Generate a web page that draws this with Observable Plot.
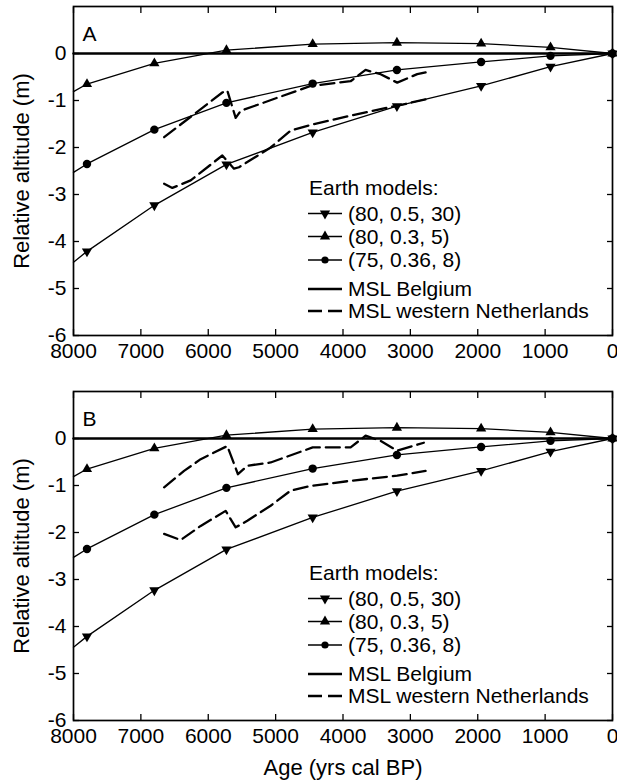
<!DOCTYPE html>
<html>
<head>
<meta charset="utf-8">
<script src="https://cdn.jsdelivr.net/npm/d3@7"></script>
<script src="https://cdn.jsdelivr.net/npm/@observablehq/plot@0.6"></script>
<style>
  html, body { margin: 0; padding: 0; background: #fff; }
  #chart { width: 617px; height: 780px; }
  #chart svg { display: block; }
</style>
</head>
<body>
<div id="chart"></div>
<script>
// ---------------- data ----------------
// model epochs (yrs cal BP); first value is where the curve meets the axis (no marker)
const modelAges = [8000, 7800, 6800, 5730, 4450, 3200, 1950, 920, 0];
const model_80_05_30 = [-4.44, -4.21, -3.23, -2.36, -1.68, -1.12, -0.69, -0.28, 0];
const model_80_03_5  = [-0.81, -0.65, -0.21, 0.07, 0.20, 0.23, 0.21, 0.13, 0];
const model_75_036_8 = [-2.53, -2.35, -1.62, -1.05, -0.64, -0.35, -0.18, -0.05, 0];

// MSL Belgium
const belgiumAges = [8000, 0];
const belgiumAlt  = [0, 0];

// MSL western Netherlands, panel A (two curves)
const nlA1Ages = [6655, 5791, 5717, 5593, 5519, 4481, 3887, 3665, 3442, 3195, 2898, 2774];
const nlA1Alt  = [-1.78, -0.83, -0.79, -1.37, -1.22, -0.69, -0.59, -0.35, -0.44, -0.62, -0.44, -0.40];
const nlA2Ages = [6655, 6533, 6261, 5791, 5618, 5544, 5074, 4777, 4481, 3887, 3195, 2750];
const nlA2Alt  = [-2.77, -2.86, -2.70, -2.17, -2.45, -2.42, -2.00, -1.64, -1.52, -1.32, -1.11, -0.97];

// MSL western Netherlands, panel B (two curves)
const nlB1Ages = [6655, 6359, 6112, 5717, 5559, 5420, 5074, 4450, 3887, 3665, 3442, 3195, 2800];
const nlB1Alt  = [-1.04, -0.69, -0.44, -0.16, -0.76, -0.58, -0.51, -0.19, -0.19, 0.06, -0.05, -0.26, -0.09];
const nlB2Ages = [6655, 6409, 6112, 5742, 5593, 5420, 5074, 4777, 4481, 3887, 3195, 2774];
const nlB2Alt  = [-2.03, -2.16, -1.86, -1.54, -1.89, -1.75, -1.43, -1.11, -1.01, -0.90, -0.79, -0.69];

// axes
const xTicks = [8000, 7000, 6000, 5000, 4000, 3000, 2000, 1000, 0];
const yTicks = [0, -1, -2, -3, -4, -5, -6];
const xDomain = [8000, 0];
const yDomain = [-6, 1];

const legendTitle = "Earth models:";
const modelLabels = ["(80, 0.5, 30)", "(80, 0.3, 5)", "(75, 0.36, 8)"];
const mslLabels = ["MSL Belgium", "MSL western Netherlands"];
const xTitle = "Age (yrs cal BP)";
const yTitle = "Relative altitude (m)";

// ---------------- helpers ----------------
const FONT = '"Liberation Sans", Arial, Helvetica, sans-serif';
const toRows = (ages, vals) => ages.map((a, i) => ({age: a, alt: vals[i]}));

const mDown = toRows(modelAges, model_80_05_30);
const mUp   = toRows(modelAges, model_80_03_5);
const mCirc = toRows(modelAges, model_75_036_8);
const belgium = toRows(belgiumAges, belgiumAlt);
const markers = rows => rows.slice(1);

const DASH = "14,6";

function panel(letter, nl1, nl2, bottom) {
  const height = bottom ? 395 : 385;
  const marginBottom = bottom ? 60 : 50;
  const marks = [
    Plot.line(belgium, {x: "age", y: "alt", stroke: "#000", strokeWidth: 2.4}),
    Plot.line(mUp,   {x: "age", y: "alt", stroke: "#000", strokeWidth: 1.3}),
    Plot.line(mCirc, {x: "age", y: "alt", stroke: "#000", strokeWidth: 1.3}),
    Plot.line(mDown, {x: "age", y: "alt", stroke: "#000", strokeWidth: 1.3}),
    Plot.line(nl1, {x: "age", y: "alt", stroke: "#000", strokeWidth: 2.3, strokeDasharray: DASH}),
    Plot.line(nl2, {x: "age", y: "alt", stroke: "#000", strokeWidth: 2.3, strokeDasharray: DASH}),
    Plot.dot(markers(mUp),   {x: "age", y: "alt", symbol: "triangle", r: 3.8, fill: "#000", stroke: null}),
    Plot.dot(markers(mDown), {x: "age", y: "alt", symbol: "triangle", rotate: 180, r: 3.8, fill: "#000", stroke: null}),
    Plot.dot(markers(mCirc), {x: "age", y: "alt", symbol: "circle", r: 4.2, fill: "#000", stroke: null}),
    Plot.frame({stroke: "#000", strokeWidth: 1.7}),
    Plot.axisX(xTicks, {anchor: "bottom", tickSize: 0, tickPadding: 8, tickFormat: d => String(d), fontSize: 21, label: null}),
    Plot.axisX(xTicks, {anchor: "bottom", tickSize: -6, tickFormat: () => "", label: null, strokeWidth: 1.3}),
    Plot.axisX(xTicks, {anchor: "top", tickSize: -6, tickFormat: () => "", label: null, strokeWidth: 1.3}),
    Plot.axisY(yTicks, {anchor: "left", tickSize: 0, tickPadding: 7, tickFormat: d => String(d), fontSize: 21, label: null}),
    Plot.axisY(yTicks, {anchor: "left", tickSize: -6, tickFormat: () => "", label: null, strokeWidth: 1.3}),
    Plot.axisY(yTicks, {anchor: "right", tickSize: -6, tickFormat: () => "", label: null, strokeWidth: 1.3}),
    Plot.text([letter], {frameAnchor: "top-left", dx: 9, dy: 28, fontSize: 21, textAnchor: "start", lineAnchor: "middle"}),
    Plot.text([yTitle], {frameAnchor: "left", dx: -52, rotate: -90, fontSize: 22, textAnchor: "middle", lineAnchor: "middle"})
  ];
  if (bottom) marks.push(Plot.text([xTitle], {frameAnchor: "bottom", dy: 47, fontSize: 22, textAnchor: "middle", lineAnchor: "middle"}));

  const svg = Plot.plot({
    width: 617,
    height,
    marginLeft: 73,
    marginRight: 5,
    marginTop: 6,
    marginBottom,
    style: {fontFamily: FONT, fontSize: "21px", color: "#000", background: "#fff", overflow: "visible"},
    x: {domain: xDomain, axis: null},
    y: {domain: yDomain, axis: null},
    marks
  });
  addLegend(svg, 6);
  return svg;
}

function addLegend(svg, top) {
  const g = d3.select(svg).append("g")
    .attr("font-family", FONT).attr("font-size", 21).attr("fill", "#000")
    .attr("text-anchor", "start");
  const x0 = 308, x1 = 342, xm = 325, xt = 348;
  g.append("text").attr("x", 309).attr("y", top + 181.5).attr("dy", "0.35em").text(legendTitle);
  const rowsY = [207.5, 230.5, 254, 283, 305];
  const area = Math.PI * 3.8 * 3.8;
  const symbols = [
    {type: d3.symbolTriangle, rot: 180, size: area},
    {type: d3.symbolTriangle, rot: 0, size: area},
    {type: d3.symbolCircle, rot: 0, size: Math.PI * 3.6 * 3.6}
  ];
  modelLabels.forEach((lab, i) => {
    const y = top + rowsY[i];
    g.append("line").attr("x1", x0).attr("x2", x1).attr("y1", y).attr("y2", y)
      .attr("stroke", "#000").attr("stroke-width", 1.3);
    g.append("path").attr("d", d3.symbol(symbols[i].type, symbols[i].size)())
      .attr("transform", `translate(${xm},${y}) rotate(${symbols[i].rot})`).attr("fill", "#000");
    g.append("text").attr("x", xt).attr("y", y).attr("dy", "0.35em").text(lab);
  });
  mslLabels.forEach((lab, j) => {
    const y = top + rowsY[3 + j];
    g.append("line").attr("x1", x0).attr("x2", x1).attr("y1", y).attr("y2", y)
      .attr("stroke", "#000").attr("stroke-width", j === 0 ? 2.4 : 2.3)
      .attr("stroke-dasharray", j === 0 ? null : DASH);
    g.append("text").attr("x", xt).attr("y", y).attr("dy", "0.35em").text(lab);
  });
}

const chart = document.getElementById("chart");
chart.appendChild(panel("A", toRows(nlA1Ages, nlA1Alt), toRows(nlA2Ages, nlA2Alt), false));
chart.appendChild(panel("B", toRows(nlB1Ages, nlB1Alt), toRows(nlB2Ages, nlB2Alt), true));
</script>
</body>
</html>
